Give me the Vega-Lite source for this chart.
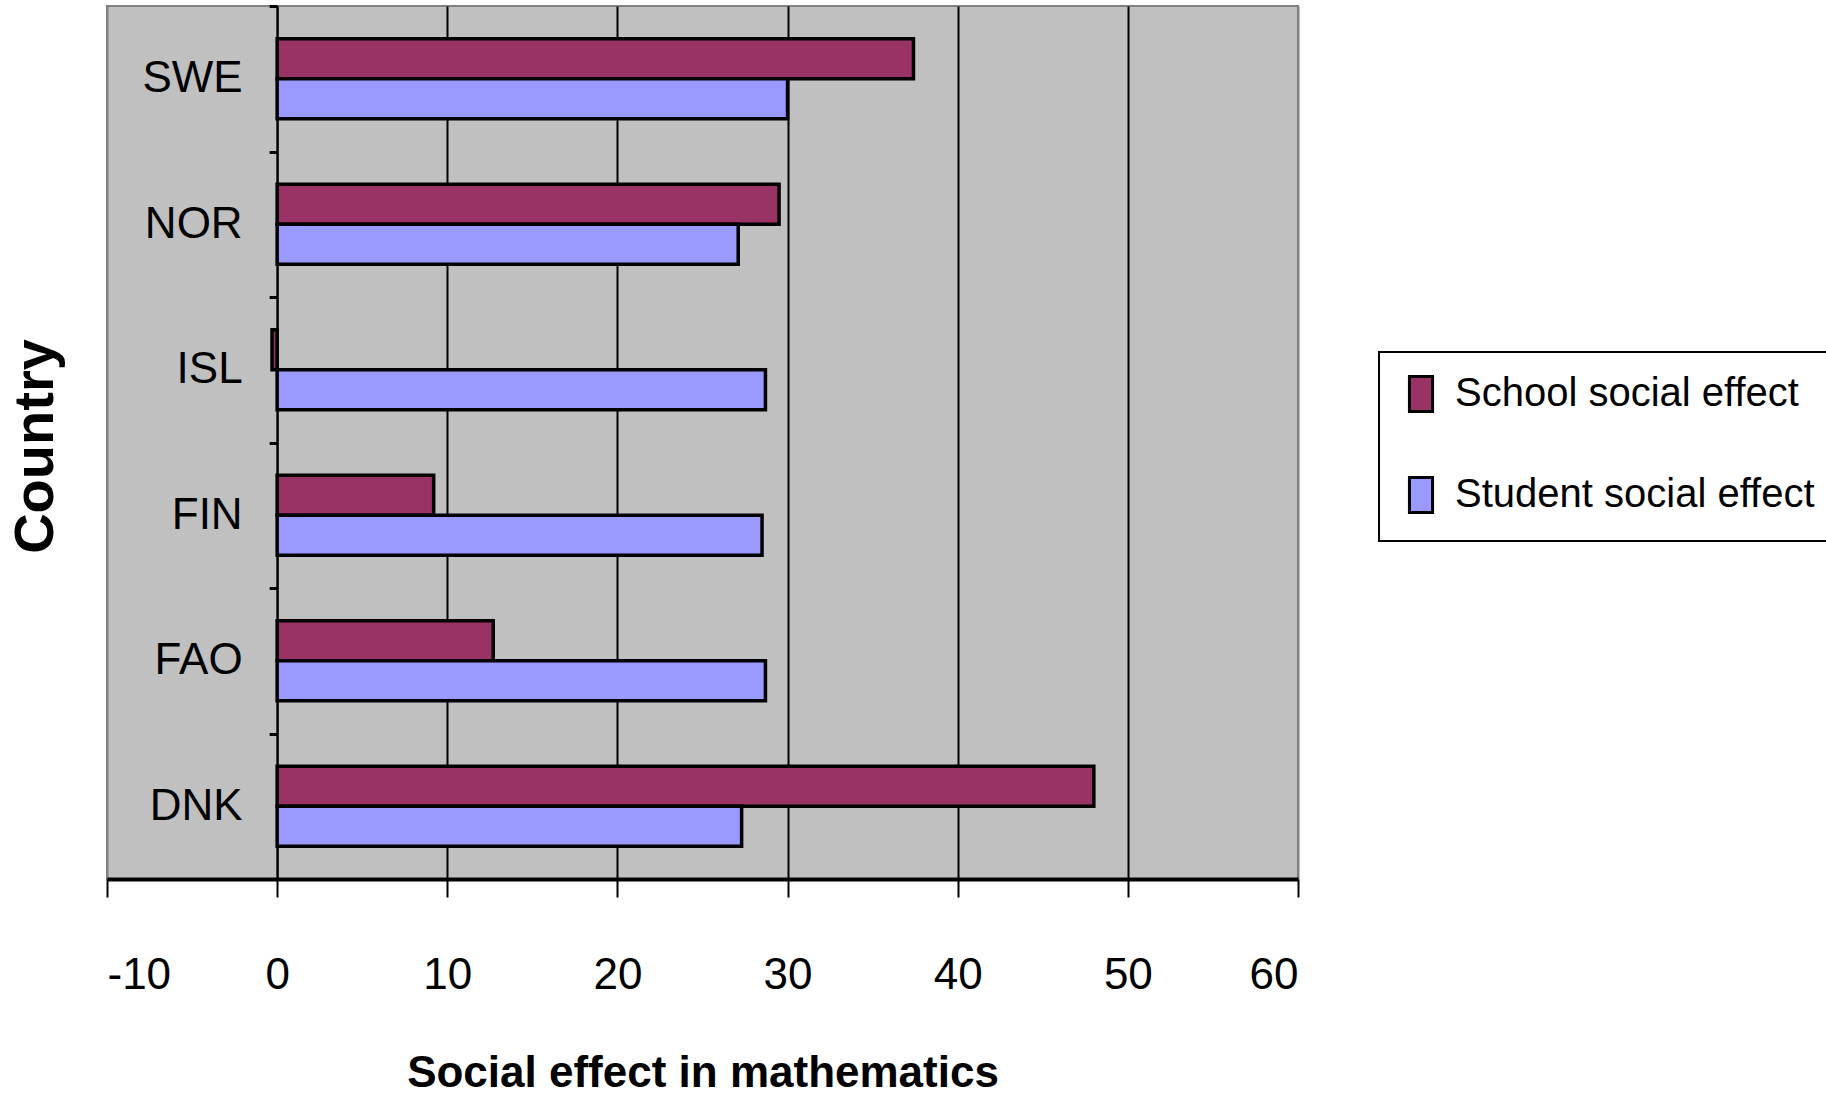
{
  "$schema": "https://vega.github.io/schema/vega-lite/v6.json",
  "width": 1191,
  "height": 873,
  "autosize": "none",
  "padding": {"left": 107, "top": 6, "right": 528, "bottom": 219},
  "background": "white",
  "config": {
    "view": {"stroke": "#808080", "strokeWidth": 2, "fill": "#C0C0C0"},
    "font": "Liberation Sans"
  },
  "data": {
    "values": [
      {"country": "SWE", "series": "School social effect", "value": 37.4},
      {"country": "SWE", "series": "Student social effect", "value": 30.0},
      {"country": "NOR", "series": "School social effect", "value": 29.5},
      {"country": "NOR", "series": "Student social effect", "value": 27.1},
      {"country": "ISL", "series": "School social effect", "value": -0.3},
      {"country": "ISL", "series": "Student social effect", "value": 28.7},
      {"country": "FIN", "series": "School social effect", "value": 9.2},
      {"country": "FIN", "series": "Student social effect", "value": 28.5},
      {"country": "FAO", "series": "School social effect", "value": 12.7},
      {"country": "FAO", "series": "Student social effect", "value": 28.7},
      {"country": "DNK", "series": "School social effect", "value": 48.0},
      {"country": "DNK", "series": "Student social effect", "value": 27.3}
    ]
  },
  "mark": {"type": "bar", "stroke": "black", "strokeWidth": 3.5, "opacity": 1},
  "encoding": {
    "y": {
      "field": "country",
      "type": "nominal",
      "sort": ["SWE", "NOR", "ISL", "FIN", "FAO", "DNK"],
      "scale": {"paddingInner": 0, "paddingOuter": 0},
      "axis": {
        "offset": -170.14,
        "domainColor": "black",
        "domainWidth": 2,
        "tickColor": "black",
        "tickWidth": 3,
        "tickSize": 8,
        "tickBand": "extent",
        "labelFont": "Liberation Sans",
        "labelFontSize": 44,
        "labelColor": "black",
        "labelPadding": 27,
        "title": "Country",
        "titleFont": "Liberation Sans",
        "titleFontWeight": "bold",
        "titleFontSize": 56,
        "titleColor": "black",
        "titleAngle": 270,
        "titleAlign": "center",
        "titleBaseline": "middle",
        "titleX": -242,
        "titleY": 440
      }
    },
    "yOffset": {
      "field": "series",
      "sort": ["School social effect", "Student social effect"],
      "scale": {"paddingInner": 0, "paddingOuter": 0.818}
    },
    "x": {
      "field": "value",
      "type": "quantitative",
      "scale": {"domain": [-10, 60], "nice": false, "zero": false},
      "axis": {
        "values": [-10, 0, 10, 20, 30, 40, 50, 60],
        "labelExpr": "replace(datum.label, '−', '-')",
        "domainColor": "black",
        "domainWidth": 4,
        "tickColor": "black",
        "tickWidth": 2,
        "tickSize": 18,
        "labelFont": "Liberation Sans",
        "labelFontSize": 44,
        "labelColor": "black",
        "labelBaseline": "alphabetic",
        "labelPadding": 91,
        "grid": true,
        "gridColor": {"condition": {"test": "datum.value == -10 || datum.value == 60", "value": "#808080"}, "value": "black"},
        "gridWidth": 2,
        "gridOpacity": 1,
        "title": "Social effect in mathematics",
        "titleFont": "Liberation Sans",
        "titleFontSize": 44,
        "titleFontWeight": "bold",
        "titleColor": "black",
        "titleBaseline": "alphabetic",
        "titleY": 207
      }
    },
    "color": {
      "field": "series",
      "type": "nominal",
      "scale": {"domain": ["School social effect", "Student social effect"], "range": ["#993366", "#9999FF"]},
      "legend": {
        "orient": "none",
        "legendX": 1272,
        "legendY": 346,
        "title": null,
        "fillColor": "white",
        "strokeColor": "black",
        "padding": 22,
        "symbolType": "M-0.66,-1H0.66V1H-0.66Z",
        "symbolSize": 1225,
        "symbolStrokeColor": "black",
        "symbolStrokeWidth": 3,
        "symbolOpacity": 1,
        "labelFont": "Liberation Sans",
        "labelFontSize": 40,
        "labelColor": "black",
        "labelOffset": 14,
        "rowPadding": 53,
        "labelLimit": 600,
        "encode": {"legend": {"update": {"strokeWidth": {"value": 2}}}}
      }
    }
  }
}
